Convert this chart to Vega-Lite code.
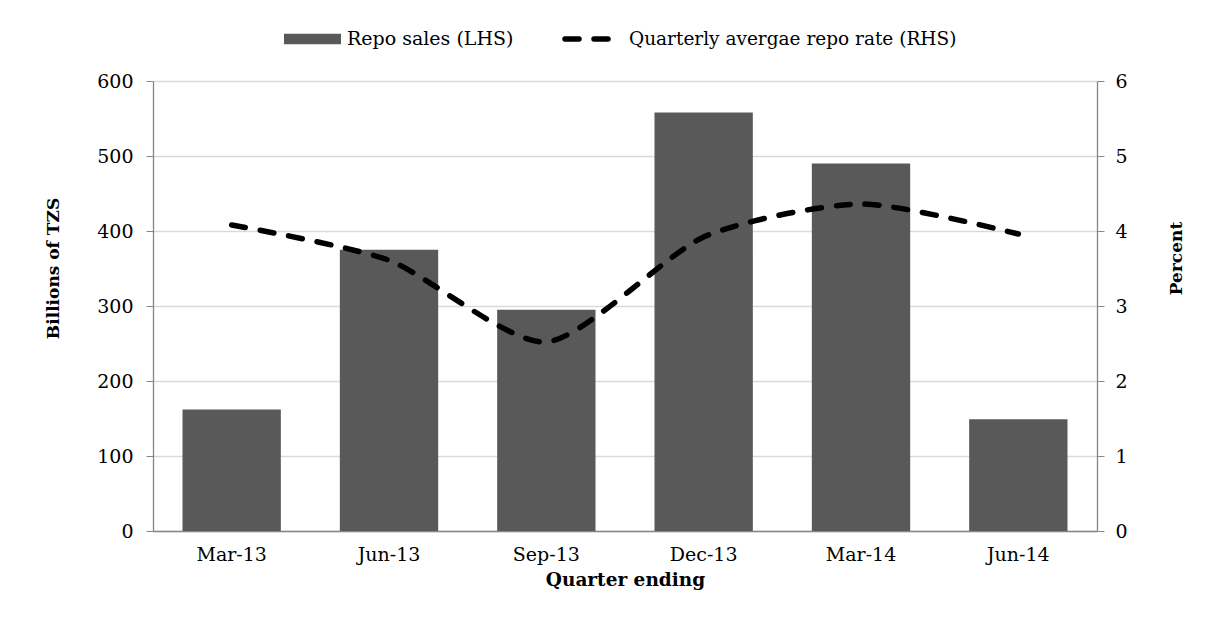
{
  "$schema": "https://vega.github.io/schema/vega-lite/v6.json",
  "width": 944,
  "height": 450,
  "autosize": {"type": "none"},
  "padding": {"left": 153, "top": 81, "right": 111, "bottom": 86},
  "background": "white",
  "config": {
    "view": {"stroke": null},
    "font": "DejaVu Serif",
    "axis": {
      "labelFont": "DejaVu Serif",
      "labelFontSize": 19,
      "labelColor": "black",
      "titleFont": "DejaVu Serif",
      "titleFontWeight": "bold",
      "titleFontSize": 17,
      "titleColor": "black",
      "domainColor": "#868686",
      "tickColor": "#868686",
      "gridColor": "#d9d9d9",
      "gridWidth": 1.3
    }
  },
  "data": {
    "values": [
      {"quarter": "Mar-13", "sales": 162, "rate": 4.08},
      {"quarter": "Jun-13", "sales": 375, "rate": 3.61},
      {"quarter": "Sep-13", "sales": 295, "rate": 2.52},
      {"quarter": "Dec-13", "sales": 558, "rate": 3.92},
      {"quarter": "Mar-14", "sales": 490, "rate": 4.36},
      {"quarter": "Jun-14", "sales": 149, "rate": 3.96}
    ]
  },
  "encoding": {
    "x": {
      "field": "quarter",
      "type": "ordinal",
      "sort": null,
      "scale": {"paddingInner": 0.375, "paddingOuter": 0.1875},
      "axis": {
        "title": "Quarter ending",
        "labelAngle": 0,
        "tickSize": 0,
        "labelPadding": 14,
        "labelBaseline": "top",
        "titlePadding": 6,
        "titleFontSize": 18.5,
        "domainWidth": 1.3
      }
    }
  },
  "layer": [
    {
      "mark": {"type": "bar", "color": "#595959"},
      "encoding": {
        "y": {
          "field": "sales",
          "type": "quantitative",
          "scale": {"domain": [0, 600]},
          "axis": {
            "values": [0, 100, 200, 300, 400, 500, 600],
            "title": "Billions of TZS",
            "tickSize": 7,
            "labelPadding": 13,
            "grid": true,
            "domainWidth": 1.3,
            "titleAngle": 270,
            "titleX": -100,
            "titleY": 187,
            "titleAlign": "center",
            "titleBaseline": "middle"
          }
        },
        "color": {
          "datum": "Repo sales (LHS)",
          "scale": {"range": ["#595959"]},
          "legend": {
            "orient": "none",
            "legendX": 131,
            "legendY": -70.5,
            "title": null,
            "symbolType": "M-1,-0.18H1V0.18H-1Z",
            "symbolSize": 3249,
            "symbolStrokeWidth": 0,
            "labelFont": "DejaVu Serif",
            "labelFontSize": 19,
            "labelColor": "black",
            "labelOffset": 6,
            "labelLimit": 0
          }
        }
      }
    },
    {
      "mark": {
        "type": "line",
        "color": "black",
        "strokeWidth": 5.5,
        "strokeCap": "round",
        "interpolate": "cardinal",
        "tension": 0.3
      },
      "encoding": {
        "y": {
          "field": "rate",
          "type": "quantitative",
          "scale": {"domain": [0, 6]},
          "axis": {
            "orient": "right",
            "values": [0, 1, 2, 3, 4, 5, 6],
            "title": "Percent",
            "tickSize": 7,
            "labelPadding": 11,
            "grid": false,
            "domainWidth": 1.3,
            "titleAngle": 270,
            "titleX": 79,
            "titleY": 177,
            "titleAlign": "center",
            "titleBaseline": "middle"
          }
        },
        "strokeDash": {
          "datum": "Quarterly avergae repo rate (RHS)",
          "scale": {"range": [[14, 15]]},
          "legend": {
            "orient": "none",
            "legendX": 409,
            "legendY": -73,
            "title": null,
            "symbolType": "stroke",
            "symbolSize": 3136,
            "symbolStrokeWidth": 5.5,
            "symbolStrokeColor": "black",
            "labelFont": "DejaVu Serif",
            "labelFontSize": 18.5,
            "labelColor": "black",
            "labelOffset": 5,
            "labelLimit": 0,
            "encode": {"symbols": {"update": {"strokeCap": {"value": "round"}}}}
          }
        }
      }
    }
  ],
  "resolve": {"scale": {"y": "independent"}}
}
